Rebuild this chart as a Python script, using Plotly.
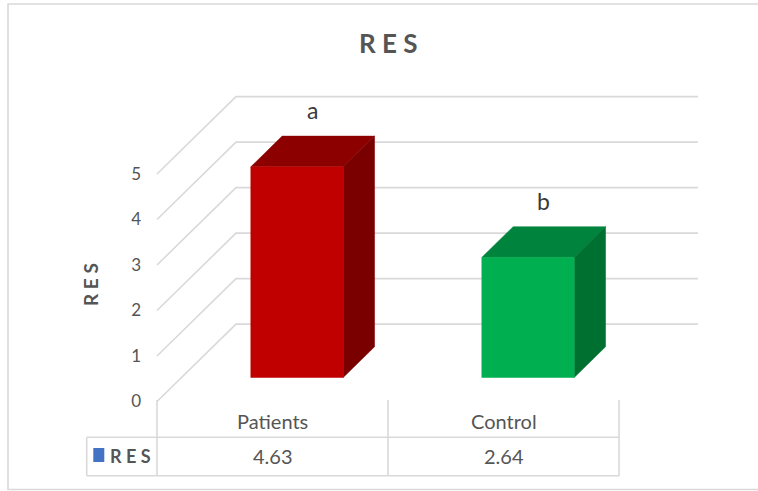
import plotly.graph_objects as go

# ---- data ----
categories = ["Patients", "Control"]
res_values = [4.63, 2.64]
group_letters = ["a", "b"]
tick_values = [0, 1, 2, 3, 4, 5]
series_name = "R E S"

# ---- colours ----
face_front = ["#C00000", "#00B050"]
face_top = ["#8C0000", "#00843D"]
face_side = ["#7A0000", "#007030"]
grid_col = "#D9D9D9"
text_col = "#555555"

# ---- pseudo-3D geometry (axis units) ----
W, H = 758, 491
DEPTH_DX = 0.342       # horizontal shift of the back wall, in category units
DEPTH_DY = 1.701       # vertical shift of the back wall, in value units
BAR_D0, BAR_D1 = 0.31, 0.707   # bar front / back depth fractions
BAR_W = 0.40

X_RANGE = [-0.5303, 2.1017]
Y_RANGE = [-1.967, 8.824]
X_DOMAIN = [150 / W, 1]


def px(xp):
    return xp / W


def py(yp):
    return 1 - yp / H


fig = go.Figure()

# gridlines: diagonal on the side wall, horizontal on the back wall
gx, gy = [], []
x_left, x_right = -0.5, len(categories) - 0.5
for v in tick_values:
    gx += [x_left, x_left + DEPTH_DX, x_right + DEPTH_DX, None]
    gy += [v, v + DEPTH_DY, v + DEPTH_DY, None]
fig.add_trace(go.Scatter(x=gx, y=gy, mode="lines",
                         line=dict(color=grid_col, width=1.6),
                         hoverinfo="skip", showlegend=False))

# columns: front, top and side faces
for i, (cat, val) in enumerate(zip(categories, res_values)):
    xf0 = i + BAR_D0 * DEPTH_DX - BAR_W / 2
    xf1 = xf0 + BAR_W
    yb = BAR_D0 * DEPTH_DY
    yt = yb + val
    ddx = (BAR_D1 - BAR_D0) * DEPTH_DX
    ddy = (BAR_D1 - BAR_D0) * DEPTH_DY
    faces = [
        ([xf0, xf1, xf1 + ddx, xf0 + ddx, xf0], [yt, yt, yt + ddy, yt + ddy, yt], face_top[i]),
        ([xf1, xf1 + ddx, xf1 + ddx, xf1, xf1], [yb, yb + ddy, yt + ddy, yt, yb], face_side[i]),
        ([xf0, xf1, xf1, xf0, xf0], [yb, yb, yt, yt, yb], face_front[i]),
    ]
    for fx, fy, col in faces:
        fig.add_trace(go.Scatter(x=fx, y=fy, mode="lines", fill="toself",
                                 fillcolor=col, line=dict(color=col, width=0.5),
                                 hoverinfo="skip", showlegend=False))
    # significance letter above the column
    fig.add_annotation(x=i + (BAR_D0 + BAR_D1) / 2 * DEPTH_DX, y=yt + ddy,
                       text=group_letters[i], showarrow=False, yanchor="bottom",
                       yshift=10, font=dict(family="Lato", size=23, color="#3A3A3A"))

# data table below the plot
line_style = dict(color=grid_col, width=1.6)
tbl_top, row_top, row_bot = 400, 437.3, 475.7
tbl_left = 86.7
shapes = [
    dict(type="line", xref="paper", yref="paper", x0=px(tbl_left), x1=px(619.3),
         y0=py(row_top), y1=py(row_top), line=line_style),
    dict(type="line", xref="paper", yref="paper", x0=px(tbl_left), x1=px(619.3),
         y0=py(row_bot), y1=py(row_bot), line=line_style),
    dict(type="line", xref="paper", yref="paper", x0=px(tbl_left), x1=px(tbl_left),
         y0=py(row_top), y1=py(row_bot), line=line_style),
]
for b in range(len(categories) + 1):
    shapes.append(dict(type="line", xref="x", yref="paper", x0=b - 0.5, x1=b - 0.5,
                       y0=py(tbl_top), y1=py(row_bot), line=line_style))
# legend key
shapes.append(dict(type="rect", xref="paper", yref="paper", x0=px(93.3), x1=px(104.3),
                   y0=py(462), y1=py(448), fillcolor="#4472C4", line=dict(width=0)))
# outer chart frame
shapes.append(dict(type="rect", xref="paper", yref="paper", x0=px(8), x1=px(770),
                   y0=py(489.5), y1=py(4), line=dict(color=grid_col, width=1.6),
                   layer="below"))

for i, (cat, val) in enumerate(zip(categories, res_values)):
    fig.add_annotation(x=i, xref="x", y=py(421), yref="paper", text=cat,
                       showarrow=False, yanchor="middle",
                       font=dict(family="Lato", size=20, color=text_col))
    fig.add_annotation(x=i, xref="x", y=py(456), yref="paper", text=f"{val:.2f}",
                       showarrow=False, yanchor="middle",
                       font=dict(family="Lato", size=20, color=text_col))

fig.add_annotation(x=px(108), xref="paper", y=py(456), yref="paper", text=series_name,
                   showarrow=False, xanchor="left", yanchor="middle",
                   font=dict(family="Lato", size=18, color=text_col, weight="bold"))

# chart title and axis title
fig.add_annotation(x=px(388), xref="paper", y=py(43), yref="paper", text="R E S",
                   showarrow=False, yanchor="middle",
                   font=dict(family="Lato", size=26, color=text_col, weight="bold"))
fig.add_annotation(x=px(90), xref="paper", y=py(285), yref="paper", text="R E S",
                   showarrow=False, textangle=-90, xanchor="center", yanchor="middle",
                   font=dict(family="Lato", size=19, color=text_col, weight="bold"))

fig.update_layout(
    width=W, height=H,
    margin=dict(l=0, r=0, t=0, b=0),
    paper_bgcolor="white", plot_bgcolor="white",
    shapes=shapes,
    showlegend=False,
    xaxis=dict(range=X_RANGE, domain=X_DOMAIN, showgrid=False, zeroline=False,
               showticklabels=False, showline=False, fixedrange=True),
    yaxis=dict(range=Y_RANGE, domain=[0, 1], showgrid=False, zeroline=False,
               showline=False, tickmode="array", tickvals=tick_values,
               ticktext=[str(v) for v in tick_values], ticks="",
               ticklabelstandoff=8,
               tickfont=dict(family="Lato", size=17, color=text_col),
               fixedrange=True),
)

fig.write_html("out.html")
